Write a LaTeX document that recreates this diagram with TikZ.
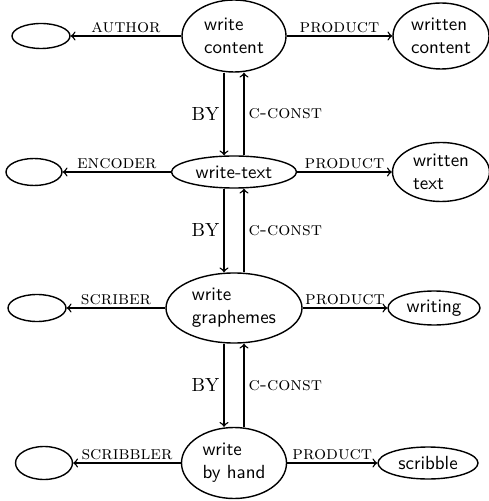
\documentclass[tikz,border=0pt]{standalone}
\usetikzlibrary{shapes.geometric}
\begin{document}
\begin{tikzpicture}[x=0.5pt,y=-0.5pt,
  ev/.style={ellipse, draw, line width=0.7pt, inner sep=0pt, align=left,
    font=\sffamily\fontsize{9.5}{11.5}\selectfont},
  rel/.style={->, line width=0.7pt},
  lab/.style={font=\scshape\fontsize{9.5}{11.5}\selectfont, inner sep=1.2pt},
  bylab/.style={font=\fontsize{9.5}{11.5}\selectfont, inner sep=2pt}]
\useasboundingbox (0,0) rectangle (488,501);
% row 1
\node[ev, minimum width=52pt, minimum height=36pt] (wc) at (234,36) {write\\content};
\node[ev, minimum width=29pt, minimum height=12.5pt] (a1) at (41,36) {};
\node[ev, minimum width=48pt, minimum height=33pt] (wcp) at (441,36) {written\\content};
% row 2
\node[ev, minimum width=62.5pt, minimum height=16pt] (wt) at (234,172) {write-text};
\node[ev, minimum width=28pt, minimum height=13.5pt] (a2) at (34,172) {};
\node[ev, minimum width=48.5pt, minimum height=29.5pt] (wtp) at (441,172) {written\\text};
% row 3
\node[ev, minimum width=68pt, minimum height=35pt] (wg) at (234,308) {write\\graphemes};
\node[ev, minimum width=29pt, minimum height=13.5pt] (a3) at (37,308) {};
\node[ev, minimum width=46pt, minimum height=17pt] (wgp) at (434,308) {writing};
% row 4
\node[ev, minimum width=52.5pt, minimum height=35.5pt] (wh) at (234,463) {write\\by hand};
\node[ev, minimum width=28.5pt, minimum height=16.5pt] (a4) at (44,463) {};
\node[ev, minimum width=50pt, minimum height=16pt] (whp) at (428,463) {scribble};
% horizontal relations
\draw[rel] (wc.west) -- node[lab, above] {author} (a1.east);
\draw[rel] (wc.east) -- node[lab, above] {product} (wcp.west);
\draw[rel] (wt.west) -- node[lab, above] {encoder} (a2.east);
\draw[rel] (wt.east) -- node[lab, above] {product} (wtp.west);
\draw[rel] (wg.west) -- node[lab, above] {scriber} (a3.east);
\draw[rel] (wg.east) -- node[lab, above] {product} (wgp.west);
\draw[rel] (wh.west) -- node[lab, above] {scribbler} (a4.east);
\draw[rel] (wh.east) -- node[lab, above] {product} (whp.west);
% vertical relations
\draw[rel] ([xshift=-5pt]wc.south) -- node[bylab, left] {BY} ([xshift=-5pt]wt.north);
\draw[rel] ([xshift=5pt]wt.north) -- node[lab, right, inner sep=2pt] {c-const} ([xshift=5pt]wc.south);
\draw[rel] ([xshift=-5pt]wt.south) -- node[bylab, left] {BY} ([xshift=-5pt]wg.north);
\draw[rel] ([xshift=5pt]wg.north) -- node[lab, right, inner sep=2pt] {c-const} ([xshift=5pt]wt.south);
\draw[rel] ([xshift=-5pt]wg.south) -- node[bylab, left] {BY} ([xshift=-5pt]wh.north);
\draw[rel] ([xshift=5pt]wh.north) -- node[lab, right, inner sep=2pt] {c-const} ([xshift=5pt]wg.south);
\end{tikzpicture}
\end{document}
